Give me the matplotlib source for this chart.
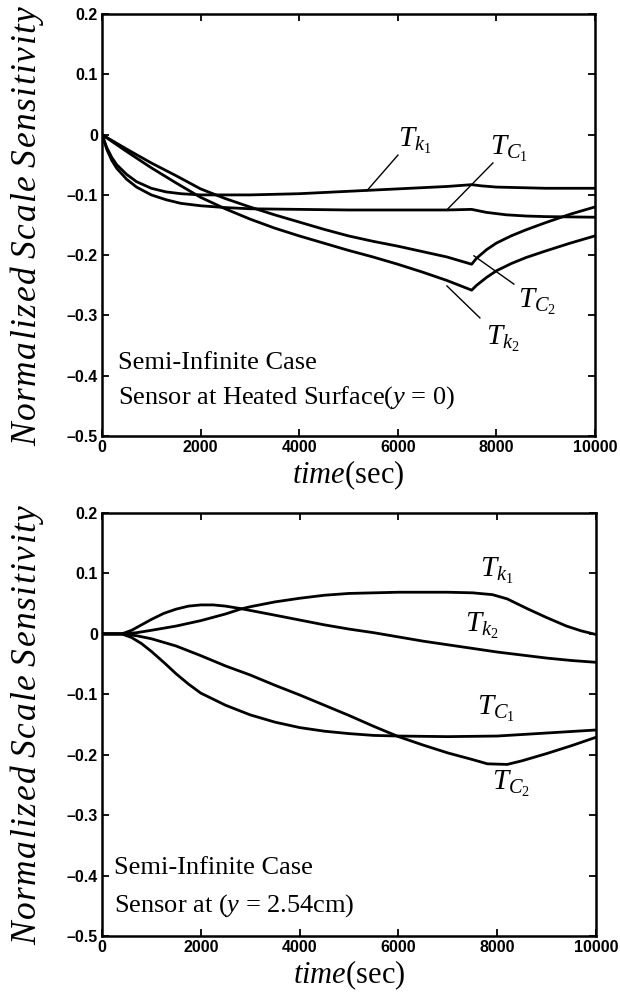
import matplotlib
matplotlib.use('Agg')
import matplotlib.pyplot as plt

plt.rcParams['mathtext.fontset'] = 'custom'
plt.rcParams['mathtext.rm'] = 'Liberation Serif'
plt.rcParams['mathtext.it'] = 'Liberation Serif:italic'
plt.rcParams['mathtext.bf'] = 'Liberation Serif:bold'

SERIF = 'Liberation Serif'
SANS = 'Liberation Sans'

# ─── data: sensor at heated surface (y = 0) ──────────────────────────────────
t_fast_a = [0, 100, 200, 300, 500, 700, 1000, 1300, 1600, 2000, 2500, 3000, 3500,
            4000, 4500, 5000, 5500, 6000, 6500, 7000, 7500, 7700, 8000, 8500, 9000, 10000]
tk1_a = [0, -0.022, -0.038, -0.05, -0.066, -0.078, -0.089, -0.095, -0.098, -0.1, -0.1,
         -0.1, -0.099, -0.098, -0.096, -0.094, -0.092, -0.09, -0.088, -0.086, -0.083,
         -0.085, -0.087, -0.088, -0.089, -0.089]

t_c1_a = [0, 100, 200, 300, 500, 700, 1000, 1300, 1600, 2000, 2500, 3000, 4000, 5000,
          6000, 7000, 7500, 7800, 8200, 8600, 9000, 10000]
tc1_a = [0, -0.025, -0.043, -0.056, -0.074, -0.087, -0.1, -0.108, -0.114, -0.118,
         -0.121, -0.123, -0.124, -0.125, -0.125, -0.125, -0.124, -0.129, -0.133, -0.135,
         -0.136, -0.137]

t_slow_a = [0, 250, 500, 1000, 1500, 2000, 2500, 3000, 3500, 4000, 4500, 5000, 5500,
            6000, 6500, 7000, 7500, 7600, 7800, 8000, 8300, 8600, 9000, 9500, 10000]
tc2_a = [0, -0.012, -0.024, -0.047, -0.068, -0.09, -0.106, -0.12, -0.133, -0.145,
         -0.157, -0.168, -0.177, -0.185, -0.194, -0.203, -0.215, -0.205, -0.191, -0.18,
         -0.168, -0.158, -0.146, -0.132, -0.12]
tk2_a = [0, -0.014, -0.028, -0.055, -0.08, -0.104, -0.123, -0.14, -0.155, -0.168,
         -0.18, -0.192, -0.203, -0.215, -0.228, -0.242, -0.258, -0.25, -0.237, -0.226,
         -0.214, -0.204, -0.193, -0.18, -0.168]

# ─── data: sensor at y = 2.54 cm ──────────────────────────────────────────────
t_k1_b = [0, 400, 700, 1000, 1500, 2000, 2500, 2800, 3000, 3500, 4000, 4500, 5000,
          5500, 6000, 6500, 7000, 7500, 7900, 8200, 8600, 9000, 9400, 9700, 10000]
tk1_b = [0, 0, 0.002, 0.006, 0.013, 0.022, 0.033, 0.041, 0.045, 0.053, 0.059, 0.064,
         0.067, 0.068, 0.069, 0.069, 0.069, 0.068, 0.065, 0.058, 0.042, 0.027, 0.013,
         0.005, -0.001]

t_k2_b = [0, 400, 600, 800, 1000, 1250, 1500, 1750, 2000, 2250, 2500, 2800, 3500, 4000,
          4500, 5000, 5500, 6000, 6500, 7000, 7500, 8000, 8500, 9000, 9500, 10000]
tk2_b = [0, 0, 0.006, 0.015, 0.024, 0.034, 0.041, 0.046, 0.048, 0.048, 0.046, 0.042,
         0.031, 0.023, 0.015, 0.008, 0.002, -0.005, -0.012, -0.018, -0.024, -0.03,
         -0.035, -0.04, -0.044, -0.047]

t_c1_b = [0, 400, 600, 800, 1000, 1250, 1500, 1750, 2000, 2500, 3000, 3500, 4000, 4500,
          5000, 5500, 6000, 7000, 8000, 9000, 10000]
tc1_b = [0, 0, -0.006, -0.016, -0.029, -0.047, -0.066, -0.083, -0.098, -0.118, -0.134,
         -0.146, -0.155, -0.161, -0.165, -0.168, -0.169, -0.17, -0.169, -0.164, -0.159]

t_c2_b = [0, 400, 700, 1000, 1500, 2000, 2500, 3000, 3500, 4000, 4500, 5000, 5500, 6000,
          6500, 7000, 7500, 7800, 8200, 8500, 9000, 9500, 10000]
tc2_b = [0, 0, -0.003, -0.008, -0.02, -0.036, -0.053, -0.068, -0.085, -0.101, -0.118,
         -0.135, -0.153, -0.17, -0.184, -0.197, -0.208, -0.215, -0.216, -0.21, -0.198,
         -0.185, -0.171]

y_ticks = [-0.5, -0.4, -0.3, -0.2, -0.1, 0, 0.1, 0.2]
y_ticklabels = ['–0.5', '–0.4', '–0.3', '–0.2', '–0.1', '0', '0.1', '0.2']
x_ticks = [0, 2000, 4000, 6000, 8000, 10000]
x_ticklabels = ['0', '2000', '4000', '6000', '8000', '10000']

# curve labels: (text, t, v) for the text, and leader lines (t0, v0, t1, v1)
labels_a = [(r'$T_{k_1}$', 6004, -0.021), (r'$T_{C_1}$', 7870, -0.034),
            (r'$T_{C_2}$', 8438, -0.288), (r'$T_{k_2}$', 7789, -0.349)]
leaders_a = [(6004, -0.034, 5375, -0.093), (7931, -0.047, 7018, -0.123),
             (8357, -0.248, 7546, -0.201), (7667, -0.304, 6998, -0.251)]
labels_b = [(r'$T_{k_1}$', 7652, 0.094), (r'$T_{k_2}$', 7348, 0.003),
            (r'$T_{C_1}$', 7591, -0.134), (r'$T_{C_2}$', 7895, -0.258)]

LW = 2.0


def spaced_italic(s, gap=0.06):
    # italic mathtext with a little tracking between letters
    words = []
    for w in s.split(' '):
        words.append((r'\hspace{%g}' % gap).join(w))
    return '$' + r'\ '.join(words) + '$'


YLABEL = spaced_italic('Normalized Scale Sensitivity')


def setup_axes(ax):
    ax.set_xlim(0, 10000)
    ax.set_ylim(-0.5, 0.2)
    ax.set_xticks(x_ticks)
    ax.set_xticklabels(x_ticklabels)
    ax.set_yticks(y_ticks)
    ax.set_yticklabels(y_ticklabels)
    ax.tick_params(direction='in', top=True, right=True, length=5, width=1.3, pad=3)
    for lab in ax.get_xticklabels() + ax.get_yticklabels():
        lab.set_fontfamily(SANS)
        lab.set_fontweight('bold')
        lab.set_fontsize(11.5)
    for sp in ax.spines.values():
        sp.set_linewidth(1.8)
    ax.set_xlabel(r'$time$(sec)', fontfamily=SERIF, fontsize=22, labelpad=2)
    ax.set_ylabel(YLABEL, fontsize=25.5, labelpad=15)


fig = plt.figure(figsize=(6.2, 9.98), dpi=100)
ax1 = fig.add_axes([0.1645, 0.5631, 0.795, 0.4228])
ax2 = fig.add_axes([0.1645, 0.0621, 0.797, 0.4238])

# top panel
ax1.plot(t_fast_a, tk1_a, color='black', lw=LW)
ax1.plot(t_c1_a, tc1_a, color='black', lw=LW)
ax1.plot(t_slow_a, tc2_a, color='black', lw=LW)
ax1.plot(t_slow_a, tk2_a, color='black', lw=LW)
for txt, tx, ty in labels_a:
    ax1.text(tx, ty, txt, fontsize=21, ha='left', va='baseline')
for x0, y0, x1, y1 in leaders_a:
    ax1.plot([x0, x1], [y0, y1], color='black', lw=1.0)
ax1.text(325, -0.379, 'Semi-Infinite Case', fontfamily=SERIF, fontsize=19,
         ha='left', va='center')
ax1.text(325, -0.437, r'Sensor at Heated Surface($y$ = 0)', fontfamily=SERIF,
         fontsize=19, ha='left', va='center')
setup_axes(ax1)

# bottom panel
ax2.plot(t_k1_b, tk1_b, color='black', lw=LW)
ax2.plot(t_k2_b, tk2_b, color='black', lw=LW)
ax2.plot(t_c1_b, tc1_b, color='black', lw=LW)
ax2.plot(t_c2_b, tc2_b, color='black', lw=LW)
for txt, tx, ty in labels_b:
    ax2.text(tx, ty, txt, fontsize=21, ha='left', va='baseline')
ax2.text(243, -0.387, 'Semi-Infinite Case', fontfamily=SERIF, fontsize=19,
         ha='left', va='center')
ax2.text(243, -0.449, r'Sensor at ($y$ = 2.54cm)', fontfamily=SERIF, fontsize=19,
         ha='left', va='center')
setup_axes(ax2)

fig.savefig('out.png', dpi=100, facecolor='white')
plt.close(fig)
